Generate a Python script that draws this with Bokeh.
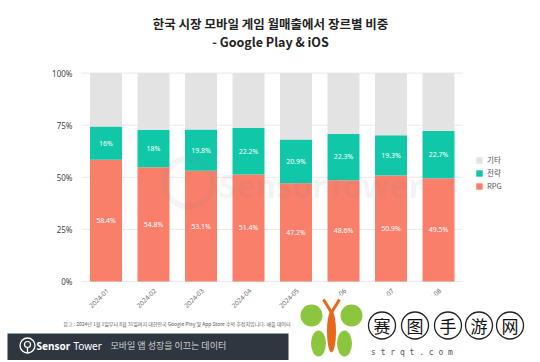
import math
from bokeh.plotting import figure
from bokeh.models import ColumnDataSource, Legend, LegendItem, Range1d
from bokeh.core.properties import value
from bokeh.embed import file_html
from bokeh.resources import INLINE

# ---- data ----
months = ["2024-01", "2024-02", "2024-03", "2024-04", "2024-05", "2024-06", "2024-07", "2024-08"]
rpg = [58.4, 54.8, 53.1, 51.4, 47.2, 48.6, 50.9, 49.5]
strategy = [16, 18, 19.8, 22.2, 20.9, 22.3, 19.3, 22.7]
other = [round(100 - r - s, 1) for r, s in zip(rpg, strategy)]
series_names = ["RPG", "전략", "기타"]
colors = ["#fa7f6b", "#10c7a8", "#e3e3e3"]
y_ticks = [0, 25, 50, 75, 100]
y_tick_labels = ["0%", "25%", "50%", "75%", "100%"]

title1 = "한국 시장 모바일 게임 월매출에서 장르별 비중"
title2 = "- Google Play & iOS"
note = "참고 : 2024년 1월 1일부터 8월 31일까지 대한민국 Google Play 및 App Store 수익 추정치입니다. 애플 데이터"
footer_brand = ["Sensor", "Tower"]
footer_slogan = "모바일 앱 성장을 이끄는 데이터"
wm_chars = ["赛", "图", "手", "游", "网"]
wm_url = "s   t   r   q   t   .   c   o   m"

KR = "Noto Sans CJK KR"
W, H = 534, 360

# layout helpers: page pixel -> data coordinates (only for layout of decorations)
STEP, X0 = 47.5, 105.5
K, Y0 = 2.084, 281.0
def px(X):
    return (X - X0) / STEP
def py(Y):
    return (Y0 - Y) / K

xi = list(range(len(months)))
src = ColumnDataSource(dict(x=xi, month=months, rpg=rpg, strategy=strategy, other=other))

p = figure(width=W, height=H, x_range=Range1d(px(0), px(W)), y_range=Range1d(py(H), py(0)),
           output_backend="svg", toolbar_location=None, min_border=0,
           x_axis_type=None, y_axis_type=None)
p.outline_line_color = None
p.xgrid.grid_line_color = None
p.ygrid.grid_line_color = None

# grid lines
p.segment(x0=[px(81)] * len(y_ticks), x1=[px(462)] * len(y_ticks), y0=y_ticks, y1=y_ticks,
          line_color="#e9e9e9", line_width=1)

rs = p.vbar_stack(["rpg", "strategy", "other"], x="x", width=32 / STEP, color=colors,
                  line_color=None, source=src)

# segment labels
lab_x = xi + xi
lab_y = [r / 2 for r in rpg] + [r + s / 2 for r, s in zip(rpg, strategy)]
lab_t = [f"{v:g}%" for v in rpg] + [f"{v:g}%" for v in strategy]
p.text(x=lab_x, y=lab_y, text=lab_t, text_color="white", text_font_size="7px",
       text_align="center", text_baseline="middle", text_font=value("Noto Sans"))

# y tick labels
p.text(x=[px(72)] * len(y_ticks), y=y_ticks, text=y_tick_labels, text_color="#444444",
       text_font_size="8px", text_align="right", text_baseline="middle",
       text_font=value("Noto Sans"))

# x tick labels (rotated)
p.text(x=[i + 1.5 / STEP for i in xi], y=[py(289)] * len(xi), text=months, angle=math.pi / 4,
       text_color="#666666", text_font_size="6.5px", text_align="right",
       text_baseline="middle", text_font=value("Noto Sans"))

# chart watermark
p.scatter(x=[px(188)], y=[py(182)], size=48, marker="circle", fill_color=None,
          line_color="#888888", line_width=6, line_alpha=0.09)
p.text(x=[px(218)], y=[py(185)], text=["SensorTower"], text_font=value("Noto Sans"),
       text_font_style="bold", text_font_size="32px", text_color="#888888",
       text_alpha=0.1, text_baseline="middle")

# titles
p.text(x=[px(270)], y=[py(23)], text=[title1], text_font=value(KR), text_font_style="bold",
       text_font_size="12.5px", text_color="#222222", text_align="center",
       text_baseline="middle")
p.text(x=[px(270)], y=[py(41)], text=[title2], text_font=value(KR), text_font_style="bold",
       text_font_size="12.5px", text_color="#222222", text_align="center",
       text_baseline="middle")

# legend
legend = Legend(items=[LegendItem(label=series_names[2], renderers=[rs[2]]),
                       LegendItem(label=series_names[1], renderers=[rs[1]]),
                       LegendItem(label=series_names[0], renderers=[rs[0]])],
                location=(475, H - 191), glyph_width=8, glyph_height=8, label_height=8,
                spacing=2, padding=0, margin=0, border_line_color=None,
                background_fill_alpha=0, label_standoff=4,
                label_text_font_size="7.5px", label_text_font=KR, label_text_color="#555555")
p.add_layout(legend)

# note + footer
p.text(x=[px(290)], y=[py(323)], text=[note], text_font=value(KR), text_font_size="5px",
       text_color="#555555", text_align="right", text_baseline="middle")
p.quad(left=[px(7)], right=[px(288)], top=[py(333)], bottom=[py(H)], fill_color="#2e3740",
       line_color=None)
p.scatter(x=[px(27)], y=[py(345)], size=15, marker="circle", fill_color=None,
          line_color="white", line_width=1.3)
p.scatter(x=[px(27)], y=[py(344)], size=6, marker="circle", fill_color=None,
          line_color="white", line_width=1.2)
p.segment(x0=[px(27)], y0=[py(347)], x1=[px(27)], y1=[py(352)], line_color="white",
          line_width=1.3)
p.text(x=[px(36)], y=[py(345)], text=[footer_brand[0]], text_font=value("Noto Sans"),
       text_font_style="bold", text_font_size="10px", text_color="white",
       text_baseline="middle")
p.text(x=[px(73)], y=[py(345)], text=[footer_brand[1]], text_font=value("Noto Sans"),
       text_font_size="10px", text_color="white", text_baseline="middle")
p.text(x=[px(110)], y=[py(345)], text=[footer_slogan], text_font=value(KR),
       text_font_size="9px", text_color="#cfcfcf", text_baseline="middle")

# site watermark (white patch, butterfly, circled characters)
p.quad(left=[px(297)], right=[px(W)], top=[py(295)], bottom=[py(H)], fill_color="white",
       line_color=None)
green = "#8cc63f"
p.ellipse(x=[px(311), px(351)], y=[py(315), py(315)], width=22, height=22,
          width_units="screen", height_units="screen", fill_color=green, line_color=None)
p.ellipse(x=[px(318), px(344)], y=[py(343), py(343)], width=15, height=26,
          width_units="screen", height_units="screen", fill_color=green, line_color=None)
p.ellipse(x=[px(331)], y=[py(331)], width=9, height=42, width_units="screen",
          height_units="screen", fill_color="#e8671c", line_color=None)
p.segment(x0=[px(331), px(331)], y0=[py(312), py(312)], x1=[px(323), px(339)],
          y1=[py(299), py(299)], line_color="#e8671c", line_width=3)
cx = [px(v) for v in (381.5, 414.5, 447.5, 478.5, 509.5)]
p.scatter(x=cx, y=[py(325)] * 5, size=27, marker="circle", fill_color="white",
          line_color="#222222", line_width=1.3)
p.text(x=cx, y=[py(325)] * 5, text=wm_chars, text_font=value("Noto Sans CJK SC"),
       text_font_size="17px", text_color="#111111", text_align="center",
       text_baseline="middle")
p.text(x=[px(450)], y=[py(352)], text=[wm_url], text_font=value("DejaVu Sans Mono"),
       text_font_size="8px", text_color="#555555", text_align="center",
       text_baseline="middle")

open("out.html", "w").write(file_html(p, INLINE))
